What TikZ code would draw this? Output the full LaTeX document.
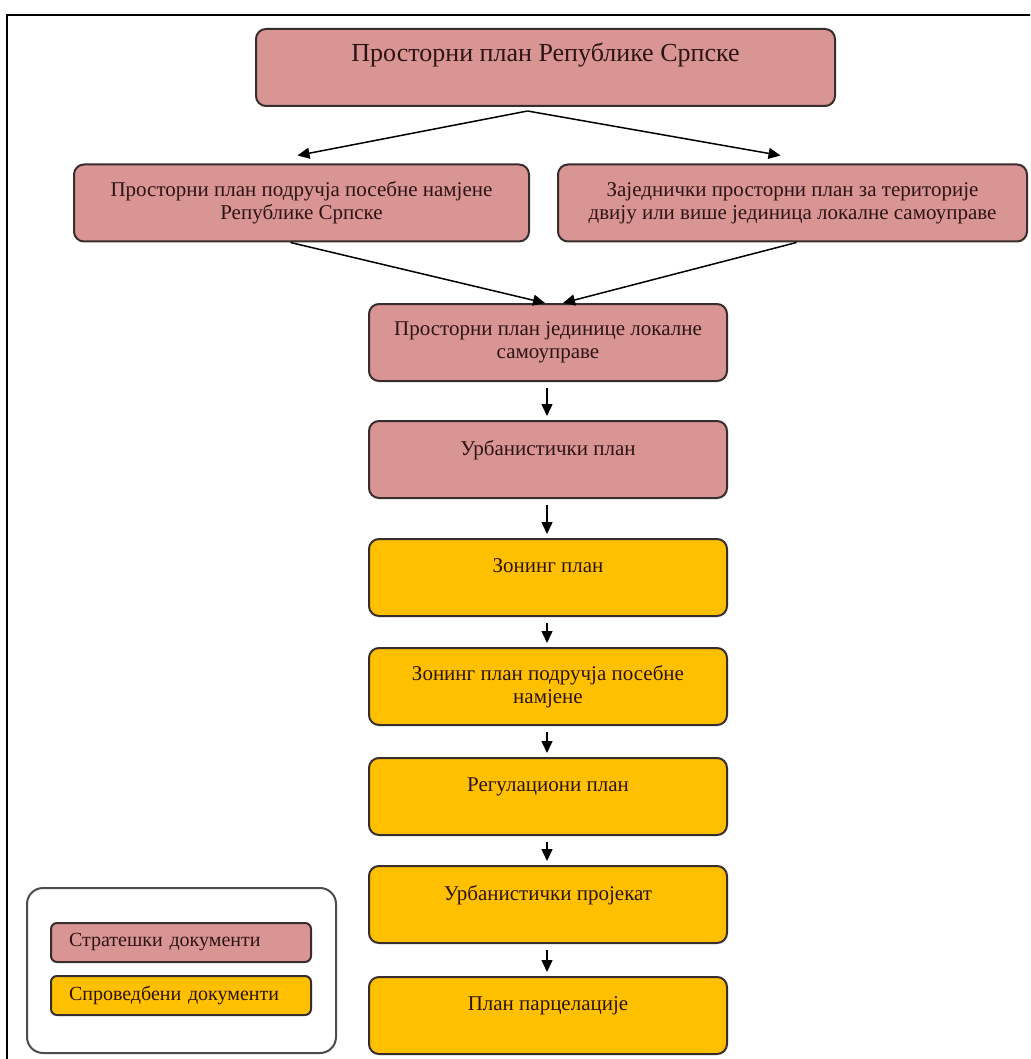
\documentclass[tikz,border=0pt]{standalone}
\usepackage{fontspec}
\setmainfont{Liberation Serif}
\usetikzlibrary{positioning, arrows.meta}

\definecolor{stratpink}{RGB}{217,149,148}
\definecolor{sprovyellow}{RGB}{255,192,0}
\definecolor{edgedark}{RGB}{55,45,45}
\definecolor{textdark}{RGB}{45,20,20}

\begin{document}
\begin{tikzpicture}[
  x=0.5pt, y=-0.5pt,
  plan/.style={draw=edgedark, line width=1pt, rounded corners=5pt, align=center,
    text=textdark, font=\fontsize{10.5}{11.5}\selectfont},
  strat/.style={plan, fill=stratpink},
  sprov/.style={plan, fill=sprovyellow},
  chainbox/.style={minimum width=179pt, minimum height=38.5pt},
  legitem/.style={minimum height=19.5pt, text width=112pt, inner xsep=9pt,
    align=left, rounded corners=3pt, font=\fontsize{10}{11}\selectfont},
  arr/.style={-{Triangle[length=6pt, width=5.5pt]}, line width=0.75pt}
]
  \useasboundingbox (0,0) rectangle (1030,1059);
  \clip (0,0) rectangle (1030,1059);
  \draw[line width=1pt] (7,15) rectangle (1045,1075);

  % strategic documents
  \node[strat, minimum width=289.5pt, minimum height=38.5pt,
    font=\fontsize{13}{15}\selectfont] (rs) at (545.5,67.5)
    {Просторни план Републике Српске\\\mbox{}};
  \node[strat, minimum width=227.5pt, minimum height=38.5pt] (psn) at (301.5,203)
    {Просторни план подручја посебне намјене\\Републике Српске};
  \node[strat, minimum width=234.5pt, minimum height=38.5pt] (zpp) at (792.5,203)
    {Заједнички просторни план за територије\\двију или више јединица локалне самоуправе};
  \node[strat, chainbox] (jls) at (548,342.5)
    {Просторни план јединице локалне\\самоуправе};
  \node[strat, chainbox, below=19pt of jls] (up) {Урбанистички план\\\mbox{}};

  % implementing documents
  \node[sprov, chainbox, below=19.5pt of up] (zp) {Зонинг план\\\mbox{}};
  \node[sprov, chainbox, below=15pt of zp] (zpn) {Зонинг план подручја посебне\\намјене};
  \node[sprov, chainbox, below=15.5pt of zpn] (rp) {Регулациони план\\\mbox{}};
  \node[sprov, chainbox, below=14.5pt of rp] (upr) {Урбанистички пројекат\\\mbox{}};
  \node[sprov, chainbox, below=16pt of upr] (pp) {План парцелације\\\mbox{}};

  % legend
  \node[draw=gray!60!black, line width=1pt, rounded corners=8pt, minimum width=154.5pt,
    minimum height=82.5pt] (legend) at (181.5,970.5) {};
  \node[strat, legitem] (legstrat) at (181,942.5) {Стратешки документи};
  \node[sprov, legitem] (legsprov) at (181,995.5) {Спроведбени документи};

  \coordinate (fork) at ([xshift=-9pt, yshift=-2pt]rs.south);
  \draw[arr] (fork) -- ([xshift=-2pt, yshift=4pt]psn.north);
  \draw[arr] (fork) -- ([xshift=-6pt, yshift=4pt]zpp.north);
  \draw[arr] ([xshift=-5.5pt]psn.south) -- ([xshift=-1.5pt]jls.north);
  \draw[arr] ([xshift=2pt]zpp.south) -- ([xshift=7.5pt]jls.north);
  \foreach \a/\b in {jls/up, up/zp, zp/zpn, zpn/rp, rp/upr, upr/pp}
    \draw[arr, shorten <=3pt, shorten >=2pt] ([xshift=-0.5pt]\a.south) -- ([xshift=-0.5pt]\b.north);
\end{tikzpicture}
\end{document}
